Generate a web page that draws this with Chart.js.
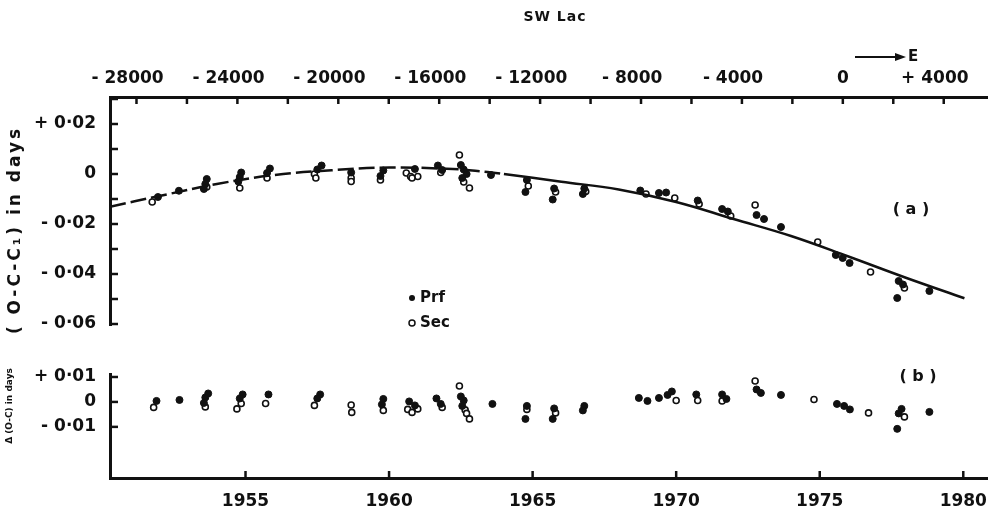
<!DOCTYPE html>
<html lang="en">
<head>
    <meta charset="UTF-8">
    <title>SW Lac O-C</title>
    <script src="https://cdn.jsdelivr.net/npm/chart.js"></script>
    <style>
        body { margin: 0; background: #fff; }
        .wrap { position: relative; width: 993px; height: 516px; }
        #panelA { position: absolute; left: 0; top: 0; }
        #panelB { position: absolute; left: 0; top: 340px; }
    </style>
</head>
<body>
<div class="wrap">
    <canvas id="panelA" width="993" height="340"></canvas>
    <canvas id="panelB" width="993" height="176"></canvas>
</div>
<script>
// fitted curve, panel (a)
const curveYears = [1950.28, 1952, 1954, 1956, 1958, 1960, 1962, 1963, 1964, 1966, 1968, 1970, 1972, 1974, 1976, 1978, 1980.04];
const curveVals  = [-0.0131, -0.0088, -0.0040, -0.0004, 0.0015, 0.0026, 0.0021, 0.0013, 0.0000, -0.0031, -0.0062, -0.0112, -0.0180, -0.0248, -0.0330, -0.0415, -0.0497];

// panel (a) O-C-C1
const priYearsA = [1951.95, 1952.68, 1953.65, 1953.6, 1953.55, 1954.85, 1954.8, 1954.75, 1955.85, 1955.75, 1957.65, 1957.5, 1958.68, 1959.8, 1959.7, 1960.9, 1961.7, 1961.85, 1962.5, 1962.6, 1962.7, 1962.55, 1963.55, 1964.8, 1964.75, 1965.75, 1965.7, 1966.8, 1966.75, 1968.75, 1969.4, 1969.65, 1970.75, 1971.6, 1971.8, 1973.06, 1972.8, 1973.65, 1975.56, 1975.8, 1976.04, 1977.75, 1977.9, 1977.7, 1978.82];
const priValsA  = [-0.0092, -0.0067, -0.0020, -0.0040, -0.0060, 0.0006, -0.0012, -0.0030, 0.0022, 0.0004, 0.0034, 0.0018, 0.0006, 0.0014, -0.0008, 0.0020, 0.0034, 0.0016, 0.0036, 0.0018, 0.0000, -0.0016, -0.0004, -0.0024, -0.0072, -0.0058, -0.0102, -0.0058, -0.0080, -0.0066, -0.0076, -0.0074, -0.0106, -0.0140, -0.0150, -0.0180, -0.0164, -0.0212, -0.0324, -0.0336, -0.0356, -0.0428, -0.0442, -0.0496, -0.0468];
const secYearsA = [1951.75, 1953.65, 1954.8, 1955.75, 1957.4, 1957.45, 1958.68, 1958.68, 1959.7, 1960.6, 1960.75, 1961.0, 1960.8, 1961.8, 1962.45, 1962.6, 1962.8, 1964.85, 1965.8, 1966.85, 1968.95, 1969.95, 1970.8, 1971.9, 1972.75, 1974.93, 1976.77, 1977.95];
const secValsA  = [-0.0112, -0.0052, -0.0056, -0.0016, 0.0000, -0.0016, -0.0016, -0.0030, -0.0024, 0.0004, -0.0010, -0.0010, -0.0016, 0.0006, 0.0076, -0.0032, -0.0056, -0.0048, -0.0072, -0.0070, -0.0080, -0.0096, -0.0120, -0.0168, -0.0124, -0.0272, -0.0392, -0.0456];

// panel (b) residuals
const priYearsB = [1951.9, 1952.7, 1953.7, 1953.6, 1953.55, 1954.9, 1954.8, 1955.8, 1957.6, 1957.5, 1959.8, 1959.75, 1960.7, 1960.9, 1961.65, 1961.8, 1962.5, 1962.6, 1962.55, 1963.6, 1964.8, 1964.75, 1965.75, 1965.7, 1966.8, 1966.75, 1968.7, 1969.0, 1969.4, 1969.7, 1969.85, 1970.7, 1971.6, 1971.75, 1972.8, 1972.95, 1973.65, 1975.6, 1975.85, 1976.05, 1977.85, 1977.75, 1977.7, 1978.82];
const priValsB  = [0.0004, 0.0008, 0.0034, 0.0018, -0.0004, 0.0030, 0.0014, 0.0030, 0.0030, 0.0014, 0.0012, -0.0010, 0.0002, -0.0014, 0.0014, -0.0008, 0.0022, 0.0006, -0.0016, -0.0008, -0.0016, -0.0068, -0.0026, -0.0068, -0.0016, -0.0034, 0.0016, 0.0004, 0.0016, 0.0028, 0.0042, 0.0030, 0.0030, 0.0012, 0.0050, 0.0036, 0.0028, -0.0008, -0.0016, -0.0030, -0.0028, -0.0046, -0.0108, -0.0040];
const secYearsB = [1951.8, 1953.6, 1954.7, 1954.85, 1955.7, 1957.4, 1958.68, 1958.7, 1959.8, 1960.65, 1960.8, 1961.0, 1961.85, 1962.45, 1962.65, 1962.7, 1962.8, 1964.8, 1965.8, 1970.0, 1970.75, 1971.6, 1972.75, 1974.8, 1976.7, 1977.95];
const secValsB  = [-0.0022, -0.0020, -0.0028, -0.0006, -0.0006, -0.0014, -0.0012, -0.0042, -0.0034, -0.0030, -0.0042, -0.0028, -0.0022, 0.0064, -0.0032, -0.0046, -0.0068, -0.0030, -0.0044, 0.0006, 0.0006, 0.0004, 0.0084, 0.0010, -0.0044, -0.0060];

// ticks (trailing spaces nudge the signed labels left, as in the print)
const yearTicks = [1955, 1960, 1965, 1970, 1975, 1980];
const epochTicks = [-28000, -26000, -24000, -22000, -20000, -18000, -16000, -14000, -12000, -10000, -8000, -6000, -4000, -2000, 0, 2000, 4000];
const epochLabels = ['- 28000   ', '', '- 24000   ', '', '- 20000   ', '', '- 16000   ', '', '- 12000   ', '', '- 8000   ', '', '- 4000   ', '', '0', '', '+ 4000   '];
const yTicksA = [0.03, 0.02, 0.01, 0, -0.01, -0.02, -0.03, -0.04, -0.05, -0.06];
const yLabelsA = ['', '+ 0·02', '', '0', '', '- 0·02', '', '- 0·04', '', '- 0·06'];
const yTicksB = [0.01, 0, -0.01];
const yLabelsB = ['+ 0·01', '0', '- 0·01'];

const ink = '#111';
const font = { family: 'DejaVu Sans', weight: 'bold', size: 17 };
const pts = (xs, ys) => xs.map((x, i) => ({ x: x, y: ys[i] }));
const noPad = s => { s.paddingLeft = 0; s.paddingRight = 0; s.paddingTop = 0; s.paddingBottom = 0; };

// ticks pointing into the plot
const inwardTicks = {
    id: 'inwardTicks',
    afterDraw(chart, args, opts) {
        const ctx = chart.ctx, a = chart.chartArea;
        ctx.save();
        ctx.strokeStyle = ink;
        ctx.lineWidth = 2.5;
        Object.keys(opts.len || {}).forEach(id => {
            const s = chart.scales[id], len = opts.len[id];
            s.ticks.forEach(t => {
                const p = s.getPixelForValue(t.value);
                ctx.beginPath();
                if (s.axis === 'y') { ctx.moveTo(a.left, p); ctx.lineTo(a.left + len, p); }
                else if (s.position === 'top') { ctx.moveTo(p, a.top); ctx.lineTo(p, a.top + len); }
                else { ctx.moveTo(p, a.bottom); ctx.lineTo(p, a.bottom - len); }
                ctx.stroke();
            });
        });
        ctx.restore();
    }
};

// free text: title, labels, legend
const notes = {
    id: 'notes',
    afterDraw(chart, args, opts) {
        const ctx = chart.ctx;
        ctx.save();
        ctx.fillStyle = ink;
        ctx.strokeStyle = ink;
        (opts.texts || []).forEach(t => {
            ctx.save();
            ctx.font = 'bold ' + t.size + 'px "DejaVu Sans"';
            ctx.letterSpacing = (t.spacing || 0) + 'px';
            ctx.textAlign = t.align || 'center';
            ctx.textBaseline = 'middle';
            ctx.translate(t.x, t.y);
            if (t.rot) ctx.rotate(t.rot);
            ctx.fillText(t.text, 0, 0);
            ctx.restore();
        });
        (opts.marks || []).forEach(m => {
            ctx.beginPath();
            ctx.arc(m.x, m.y, 3, 0, Math.PI * 2);
            ctx.lineWidth = 1.5;
            if (m.open) { ctx.fillStyle = '#fff'; ctx.fill(); ctx.stroke(); ctx.fillStyle = ink; }
            else ctx.fill();
        });
        if (opts.arrow) {
            const r = opts.arrow;
            ctx.lineWidth = 2;
            ctx.beginPath(); ctx.moveTo(r.x0, r.y); ctx.lineTo(r.x1 - 8, r.y); ctx.stroke();
            ctx.beginPath(); ctx.moveTo(r.x1, r.y); ctx.lineTo(r.x1 - 11, r.y - 4); ctx.lineTo(r.x1 - 11, r.y + 4); ctx.closePath(); ctx.fill();
        }
        ctx.restore();
    }
};

const xMin = 1950.28, xMax = 1980.84;

new Chart(document.getElementById('panelA'), {
    data: {
        datasets: [
            {
                type: 'line', data: pts(curveYears, curveVals), borderColor: ink, borderWidth: 2.5,
                pointRadius: 0, tension: 0.4, fill: false,
                segment: { borderDash: c => c.p1.parsed.x <= 1964 ? [16, 5] : undefined }
            },
            { type: 'scatter', data: pts(priYearsA, priValsA), pointRadius: 3.5, backgroundColor: ink, borderColor: ink, borderWidth: 1 },
            { type: 'scatter', data: pts(secYearsA, secValsA), pointRadius: 3, backgroundColor: '#fff', borderColor: ink, borderWidth: 1.6 }
        ]
    },
    options: {
        responsive: false, animation: false,
        layout: { padding: { top: 0, left: 0, right: 3, bottom: 15 } },
        plugins: {
            legend: { display: false }, tooltip: { enabled: false },
            inwardTicks: { len: { y: 8, x2: 7 } },
            notes: {
                texts: [
                    { text: 'SW Lac', x: 555, y: 17, size: 14, spacing: 1 },
                    { text: 'E', x: 913, y: 57, size: 15 },
                    { text: '( O-C-C\u2081) in days', x: 16, y: 230, size: 17, spacing: 3, rot: -Math.PI / 2 },
                    { text: '( a )', x: 911, y: 210, size: 16 },
                    { text: 'Prf', x: 420, y: 298, size: 15, align: 'left' },
                    { text: 'Sec', x: 420, y: 323, size: 15, align: 'left' }
                ],
                marks: [{ x: 412, y: 298 }, { x: 412, y: 323, open: true }],
                arrow: { x0: 855, x1: 906, y: 57 }
            }
        },
        scales: {
            x: { type: 'linear', min: xMin, max: xMax, display: false },
            x2: {
                type: 'linear', position: 'top', min: -29050, max: 5731,
                afterBuildTicks: s => { s.ticks = epochTicks.map(v => ({ value: v })); },
                afterFit: s => { s.height = 97; noPad(s); },
                ticks: { callback: v => epochLabels[epochTicks.indexOf(v)] || '', color: ink, font: font, padding: 8, maxRotation: 0, autoSkip: false },
                grid: { display: true, drawOnChartArea: false, drawTicks: false },
                border: { display: true, color: ink, width: 3 }
            },
            y: {
                type: 'linear', min: -0.0604, max: 0.0308,
                afterBuildTicks: s => { s.ticks = yTicksA.map(v => ({ value: v })); },
                afterFit: s => { s.width = 110; noPad(s); },
                ticks: { callback: v => yLabelsA[yTicksA.indexOf(v)] || '', color: ink, font: font, padding: 14, autoSkip: false },
                grid: { display: true, drawOnChartArea: false, drawTicks: false },
                border: { display: true, color: ink, width: 3 }
            }
        }
    },
    plugins: [inwardTicks, notes]
});

new Chart(document.getElementById('panelB'), {
    data: {
        datasets: [
            { type: 'scatter', data: pts(priYearsB, priValsB), pointRadius: 3.5, backgroundColor: ink, borderColor: ink, borderWidth: 1 },
            { type: 'scatter', data: pts(secYearsB, secValsB), pointRadius: 3, backgroundColor: '#fff', borderColor: ink, borderWidth: 1.6 }
        ]
    },
    options: {
        responsive: false, animation: false,
        layout: { padding: { top: 34, left: 0, right: 3, bottom: 0 } },
        plugins: {
            legend: { display: false }, tooltip: { enabled: false },
            inwardTicks: { len: { y: 8, x: 7 } },
            notes: {
                texts: [
                    { text: '\u0394 (O-C) in days', x: 10, y: 66, size: 9, rot: -Math.PI / 2 },
                    { text: '( b )', x: 918, y: 37, size: 16 }
                ]
            }
        },
        scales: {
            x: {
                type: 'linear', min: xMin, max: xMax,
                afterBuildTicks: s => { s.ticks = yearTicks.map(v => ({ value: v })); },
                afterFit: s => { s.height = 38; noPad(s); },
                ticks: { callback: v => String(v), color: ink, font: font, padding: 13, maxRotation: 0, autoSkip: false },
                grid: { display: true, drawOnChartArea: false, drawTicks: false },
                border: { display: true, color: ink, width: 3 }
            },
            y: {
                type: 'linear', min: -0.0305, max: 0.0112,
                afterBuildTicks: s => { s.ticks = yTicksB.map(v => ({ value: v })); },
                afterFit: s => { s.width = 110; noPad(s); },
                ticks: { callback: v => yLabelsB[yTicksB.indexOf(v)] || '', color: ink, font: font, padding: 14, autoSkip: false },
                grid: { display: true, drawOnChartArea: false, drawTicks: false },
                border: { display: true, color: ink, width: 3 }
            }
        }
    },
    plugins: [inwardTicks, notes]
});
</script>
</body>
</html>
